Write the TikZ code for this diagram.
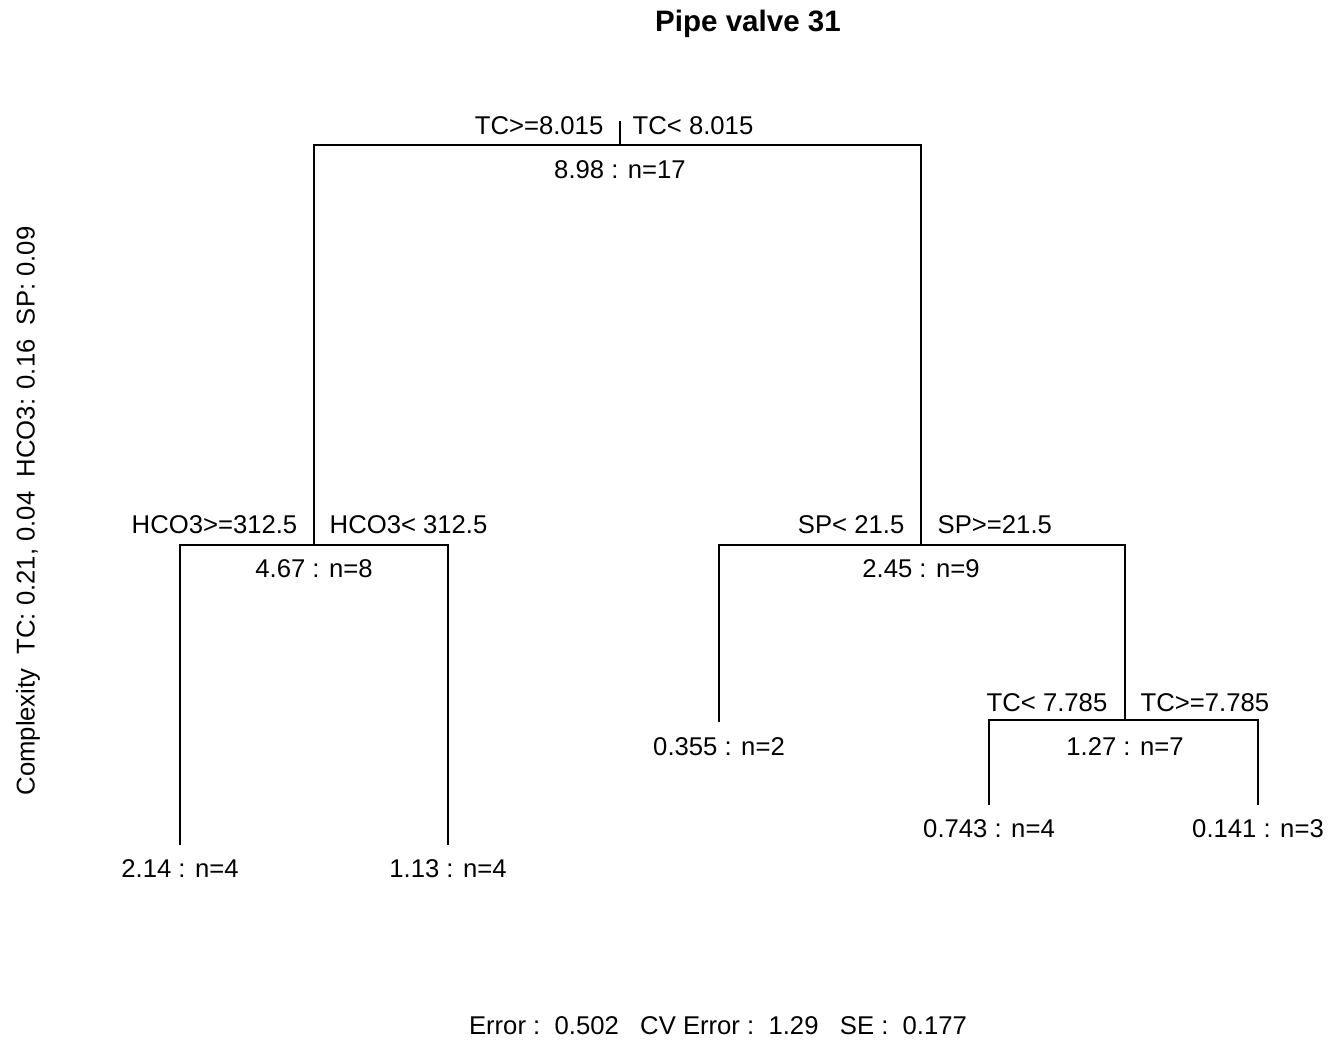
\documentclass[tikz,border=0pt]{standalone}
\usepackage{fontspec}
\setmainfont{Liberation Sans}
\tikzset{
  split/.style={inner sep=0pt, font=\fontsize{7.3}{9}\selectfont},
  value/.style={inner sep=0pt, anchor=base, font=\fontsize{7.3}{9}\selectfont},
}
\begin{document}
\begin{tikzpicture}[x=0.01cm,y=-0.01cm]
\useasboundingbox (0,0) rectangle (1328,1042);
% split points and leaf ends
\coordinate (n1) at (620,145);
\coordinate (n2) at (314,545);
\coordinate (n3) at (921,545);
\coordinate (n7) at (1125,720);
\coordinate (l4) at (180,845);
\coordinate (l5) at (448,845);
\coordinate (l6) at (719,722);
\coordinate (l14) at (989,805);
\coordinate (l15) at (1258,805);
% branches
\draw (n1) -- ++(0,-24);
\draw (n2) |- (n1) -| (n3);
\draw (l4) |- (n2) -| (l5);
\draw (l6) |- (n3) -| (n7);
\draw (l14) |- (n7) -| (l15);
% split labels
\node[split, anchor=base east, xshift=-0.16cm, yshift=0.1cm] (s1l) at (n1) {TC>=8.015};
\node[split, anchor=base west, xshift=0.12cm, yshift=0.1cm] (s1r) at (n1) {TC< 8.015};
\node[split, anchor=base east, xshift=-0.16cm, yshift=0.12cm] (s2l) at (n2) {HCO3>=312.5};
\node[split, anchor=base west, xshift=0.15cm, yshift=0.12cm] (s2r) at (n2) {HCO3< 312.5};
\node[split, anchor=base east, xshift=-0.16cm, yshift=0.12cm] (s3l) at (n3) {SP< 21.5};
\node[split, anchor=base west, xshift=0.16cm, yshift=0.12cm] (s3r) at (n3) {SP>=21.5};
\node[split, anchor=base east, xshift=-0.17cm, yshift=0.09cm] (s7l) at (n7) {TC< 7.785};
\node[split, anchor=base west, xshift=0.15cm, yshift=0.09cm] (s7r) at (n7) {TC>=7.785};
% node values
\node[value, yshift=-0.33cm] (v1) at (n1) {8.98 : n=17};
\node[value, yshift=-0.32cm] (v2) at (n2) {4.67 : n=8};
\node[value, yshift=-0.32cm] (v3) at (n3) {2.45 : n=9};
\node[value, yshift=-0.35cm] (v7) at (n7) {1.27 : n=7};
\node[value, yshift=-0.32cm] (v4) at (l4) {2.14 : n=4};
\node[value, yshift=-0.32cm] (v5) at (l5) {1.13 : n=4};
\node[value, yshift=-0.33cm] (v6) at (l6) {0.355 : n=2};
\node[value, yshift=-0.32cm] (v14) at (l14) {0.743 : n=4};
\node[value, yshift=-0.32cm] (v15) at (l15) {0.141 : n=3};
% title, axis text, footer
\node[value, font=\fontsize{8.4}{10}\selectfont\bfseries] (title) at (748,31) {Pipe valve 31};
\node[split, rotate=90] (cp) at (28,511) {Complexity\ \ TC: 0.21, 0.04\ \ HCO3: 0.16\ \ SP: 0.09};
\node[value] (err) at (718,1034) {Error :\ \ 0.502\ \ \ CV Error :\ \ 1.29\ \ \ SE :\ \ 0.177};
\end{tikzpicture}
\end{document}
